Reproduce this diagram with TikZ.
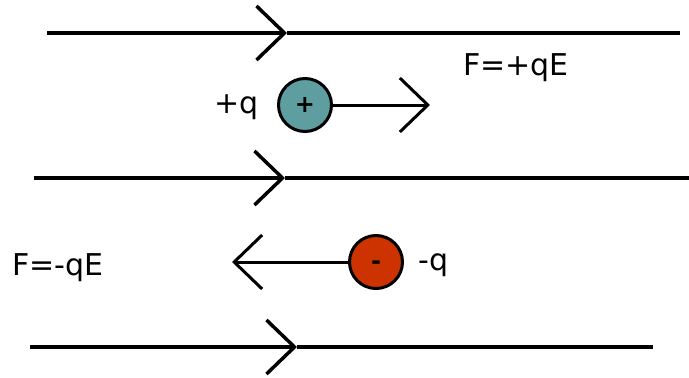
\documentclass[tikz,border=0pt]{standalone}
\usepackage{fontspec}
\setmainfont{DejaVu Sans}
\usetikzlibrary{positioning, arrows.meta}

\definecolor{poscol}{RGB}{95,158,160}
\definecolor{negcol}{RGB}{204,51,0}

\begin{document}
\begin{tikzpicture}[x=1pt, y=-1pt,
     node distance = 6pt and 6pt,
       field/.style = {line width=3.5pt},
  fieldarrow/.style = {line width=3.5pt, -{Straight Barb[length=28pt,width=54pt]}},
       force/.style = {line width=3pt, -{Straight Barb[length=28pt,width=54pt]}},
      charge/.style = {circle, draw, line width=3pt, minimum size=53pt, inner sep=0pt,
                       font=\fontsize{24}{28}\selectfont\bfseries},
         lbl/.style = {font=\fontsize{30}{36}\selectfont, inner sep=0pt}
                        ]
\useasboundingbox (0,0) rectangle (689,378);
% field lines
\foreach \y/\xa/\xm/\xb [count=\i] in {33/47/287/680, 178/34/285/689, 347/30/297/653}{
  \coordinate (f\i a) at (\xa,\y);
  \coordinate (f\i m) at (\xm,\y);
  \coordinate (f\i b) at (\xb,\y);
  \draw[fieldarrow] (f\i a) -- (f\i m);
  \draw[field] (f\i m) -- (f\i b);
}
% positive charge
\node (pos) [charge, fill=poscol] at (305,105) {+};
\node (posq) [lbl, left=18pt of pos, yshift=-2pt] {+q};
\coordinate (posf) at (430,105);
\draw[force] (pos) -- (posf);
\node (Fpos) [lbl] at (516,68) {F=+qE};
% negative charge
\node (neg) [charge, fill=negcol] at (376,262) {\raisebox{-7pt}[0pt][0pt]{-}};
\node (negq) [lbl, right=14pt of neg, yshift=-3pt] {-q};
\coordinate (negf) at (232,262);
\draw[force] (neg) -- (negf);
\node (Fneg) [lbl, anchor=west] at (12,268) {F=-qE};
\end{tikzpicture}
\end{document}
